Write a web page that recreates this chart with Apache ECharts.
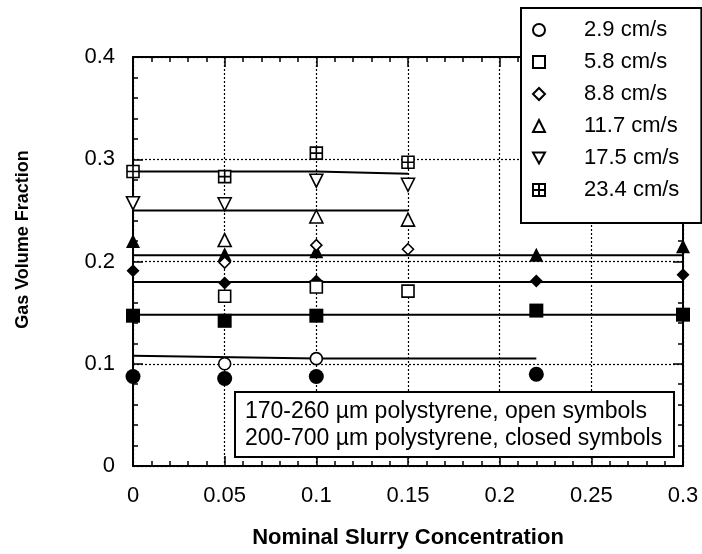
<!DOCTYPE html>
<html>
<head>
<meta charset="utf-8">
<script src="https://cdn.jsdelivr.net/npm/echarts@6/dist/echarts.min.js"></script>
<style>html,body{margin:0;padding:0;background:#fff;}#c{width:702px;height:554px;}</style>
</head>
<body>
<div id="c"></div>
<script>
// ---- data ----
var speeds = ['2.9 cm/s', '5.8 cm/s', '8.8 cm/s', '11.7 cm/s', '17.5 cm/s', '23.4 cm/s'];
var xTicks = [0, 0.05, 0.1, 0.15, 0.2, 0.25, 0.3];
var yTicks = [0, 0.1, 0.2, 0.3, 0.4];

// open symbols (170-260 um polystyrene)
var open29_x = [0.05, 0.1];               var open29_y = [0.100, 0.105];
var open58_x = [0.05, 0.1, 0.15];         var open58_y = [0.166, 0.175, 0.171];
var open88_x = [0.05, 0.1, 0.15];         var open88_y = [0.199, 0.216, 0.212];
var open117_x = [0.05, 0.1, 0.15];        var open117_y = [0.221, 0.244, 0.241];
var open175_x = [0, 0.05, 0.1, 0.15];     var open175_y = [0.257, 0.256, 0.279, 0.275];
var open234_x = [0, 0.05, 0.1, 0.15];     var open234_y = [0.288, 0.283, 0.306, 0.297];

// closed symbols (200-700 um polystyrene)
var closed29_x = [0, 0.05, 0.1, 0.22];          var closed29_y = [0.0875, 0.0856, 0.0875, 0.0898];
var closed58_x = [0, 0.05, 0.1, 0.22, 0.3];     var closed58_y = [0.147, 0.142, 0.147, 0.152, 0.148];
var closed88_x = [0, 0.05, 0.1, 0.22, 0.3];     var closed88_y = [0.191, 0.179, 0.181, 0.181, 0.187];
var closed117_x = [0, 0.05, 0.1, 0.22, 0.3];    var closed117_y = [0.220, 0.207, 0.210, 0.2065, 0.215];

// fitted lines
var fit29_x = [0, 0.1, 0.22];      var fit29_y = [0.1078, 0.1052, 0.1052];
var fit58_x = [0, 0.3];            var fit58_y = [0.148, 0.148];
var fit88_x = [0, 0.3];            var fit88_y = [0.180, 0.180];
var fit117_x = [0, 0.3];           var fit117_y = [0.2062, 0.2062];
var fit175_x = [0, 0.15];          var fit175_y = [0.250, 0.250];
var fit234_x = [0, 0.1, 0.15];     var fit234_y = [0.288, 0.288, 0.2858];

var boxText = ['170-260 µm polystyrene, open symbols', '200-700 µm polystyrene, closed symbols'];

function pts(xs, ys) { return xs.map(function (x, i) { return [x, ys[i]]; }); }

var FONT = 'Liberation Sans, Arial, Helvetica, sans-serif';
var crossSquare = 'path://M0,0H10V10H0ZM5,0V10M0,5H10';
var downTriangle = 'path://M0,0L10,0L5,9Z';

function fitLine(xs, ys) {
  return { type: 'line', data: pts(xs, ys), symbol: 'none', silent: true, z: 2,
    lineStyle: { color: '#000', width: 2 }, animation: false };
}
function openSeries(name, xs, ys, symbol, size) {
  return { type: 'scatter', name: name, data: pts(xs, ys), symbol: symbol, symbolSize: size,
    z: 4, animation: false,
    itemStyle: { color: '#fff', borderColor: '#000', borderWidth: 1.6, opacity: 1 } };
}
function closedSeries(name, xs, ys, symbol, size) {
  return { type: 'scatter', name: name, data: pts(xs, ys), symbol: symbol, symbolSize: size,
    z: 3, animation: false, itemStyle: { color: '#000', borderWidth: 0, opacity: 1 } };
}

var axisCommon = {
  type: 'value',
  axisLine: { show: true, onZero: false, lineStyle: { color: '#000', width: 2 } },
  axisTick: { show: true, inside: true, length: 10, lineStyle: { color: '#000', width: 1.5 } },
  minorTick: { show: true, splitNumber: 5, length: 5, lineStyle: { color: '#000', width: 1.5 } }
};

var option = {
  backgroundColor: '#fff',
  animation: false,
  grid: { left: 133, right: 19, top: 57, bottom: 87 },
  xAxis: [
    Object.assign({}, axisCommon, {
      position: 'bottom', min: xTicks[0], max: xTicks[xTicks.length - 1], interval: 0.05,
      name: 'Nominal Slurry Concentration', nameLocation: 'middle', nameGap: 61,
      nameTextStyle: { fontFamily: FONT, fontSize: 22, fontWeight: 'bold', color: '#000' },
      axisLabel: { margin: 19, fontFamily: FONT, fontSize: 22, color: '#000' },
      splitLine: { show: true, lineStyle: { color: '#000', type: [2, 2], width: 1.2 } }
    }),
    Object.assign({}, axisCommon, {
      position: 'top', min: xTicks[0], max: xTicks[xTicks.length - 1], interval: 0.05,
      axisLabel: { show: false }, splitLine: { show: false }
    })
  ],
  yAxis: [
    Object.assign({}, axisCommon, {
      position: 'left', min: yTicks[0], max: yTicks[yTicks.length - 1], interval: 0.1,
      name: 'Gas Volume Fraction', nameLocation: 'middle', nameGap: 101, nameRotate: 90,
      nameTextStyle: { fontFamily: FONT, fontSize: 18, fontWeight: 'bold', color: '#000', padding: [0, 0, 0, 44] },
      axisLabel: { margin: 18, fontFamily: FONT, fontSize: 22, color: '#000' },
      splitLine: { show: true, lineStyle: { color: '#000', type: [2, 2], width: 1.2 } }
    }),
    Object.assign({}, axisCommon, {
      position: 'right', min: yTicks[0], max: yTicks[yTicks.length - 1], interval: 0.1,
      axisLabel: { show: false }, splitLine: { show: false }
    })
  ],
  legend: {
    data: speeds,
    orient: 'vertical', left: 521, top: 8,
    backgroundColor: '#fff', borderColor: '#000', borderWidth: 2,
    padding: [11, 22, 22, 11],
    itemWidth: 12, itemHeight: 12, itemGap: 10,
    selectedMode: false,
    textStyle: { fontFamily: FONT, fontSize: 22, color: '#000', padding: [0, 0, 0, 34] }
  },
  title: {
    text: boxText.join('\n'),
    left: 235, top: 392,
    backgroundColor: '#fff', borderColor: '#000', borderWidth: 2,
    padding: [6, 12, 5, 10],
    textStyle: { fontFamily: FONT, fontSize: 23, fontWeight: 'normal', color: '#000', lineHeight: 27 }
  },
  series: [
    fitLine(fit29_x, fit29_y), fitLine(fit58_x, fit58_y), fitLine(fit88_x, fit88_y),
    fitLine(fit117_x, fit117_y), fitLine(fit175_x, fit175_y), fitLine(fit234_x, fit234_y),
    closedSeries('2.9 closed', closed29_x, closed29_y, 'circle', 15),
    closedSeries('5.8 closed', closed58_x, closed58_y, 'rect', 14),
    closedSeries('8.8 closed', closed88_x, closed88_y, 'diamond', 13),
    closedSeries('11.7 closed', closed117_x, closed117_y, 'triangle', 14),
    openSeries(speeds[0], open29_x, open29_y, 'circle', 12),
    openSeries(speeds[1], open58_x, open58_y, 'rect', 12),
    openSeries(speeds[2], open88_x, open88_y, 'diamond', 11),
    openSeries(speeds[3], open117_x, open117_y, 'triangle', 13),
    openSeries(speeds[4], open175_x, open175_y, downTriangle, 13),
    openSeries(speeds[5], open234_x, open234_y, crossSquare, 12)
  ]
};

var chart = echarts.init(document.getElementById('c'), null, { renderer: 'canvas' });
chart.setOption(option);
</script>
</body>
</html>
